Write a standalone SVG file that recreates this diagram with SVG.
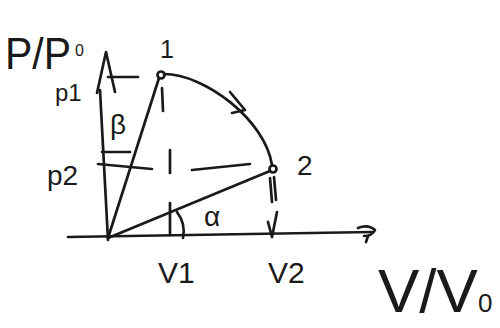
<svg xmlns="http://www.w3.org/2000/svg" width="500" height="328" viewBox="0 0 500 328">
<style>
.s{fill:none;stroke:#1a1a1a;stroke-width:2.7;stroke-linecap:round;stroke-linejoin:round}
.t{font-family:"Liberation Sans","DejaVu Sans",sans-serif;fill:#1a1a1a}
</style>
<rect width="500" height="328" fill="#fff"/>
<g id="connectors">
<path class="s" d="M108,240 L100,90"/>
<path class="s" d="M97,93 L106,52 L115,92"/>
<path class="s" d="M68,237 L372,232"/>
<path class="s" d="M358,228 Q368,224 375,230 Q372,236 364,236 M368,236 L366,242"/>
<path class="s" d="M108,238 L159,78"/>
<path class="s" d="M108,238 L270,171"/>
<path class="s" d="M164,74 C205,74 265,120 272,165"/>
<path class="s" d="M230,92 L245,110 L232,113"/>
<path class="s" d="M108,77 L138,77"/>
<path class="s" d="M102,152 L130,152"/>
<path class="s" d="M98,164 L152,169"/>
<path class="s" d="M170,150 L170,173"/>
<path class="s" d="M192,170 L250,164"/>
<path class="s" d="M162,88 L163,111"/>
<path class="s" d="M170,203 L170,235"/>
<path class="s" d="M177,212 Q186,224 183,238"/>
<path class="s" d="M270,178 L272,202 M274,177 L276,200"/>
<path class="s" d="M268,222 L272,237 L277,212"/>
</g>
<g id="node1"><circle class="s" cx="161" cy="75" r="3.5"/><text class="t" x="160" y="58" font-size="25">1</text></g>
<g id="node2"><circle class="s" cx="273" cy="169" r="3.5"/><text class="t" x="297" y="175" font-size="28">2</text></g>
<g id="labels">
<text class="t" x="5" y="69" font-size="44" textLength="66" lengthAdjust="spacingAndGlyphs">P/P</text>
<text class="t" x="75" y="56" font-size="16">0</text>
<text class="t" x="55" y="101" font-size="24">p1</text>
<text class="t" x="110" y="134" font-size="28">β</text>
<text class="t" x="47" y="185" font-size="28">p2</text>
<text class="t" x="204" y="226" font-size="28">α</text>
<text class="t" x="158" y="283" font-size="30">V1</text>
<text class="t" x="268" y="283" font-size="30">V2</text>
<text class="t" x="378" y="312" font-size="62">V/V<tspan font-size="26">0</tspan></text>
</g>
</svg>
